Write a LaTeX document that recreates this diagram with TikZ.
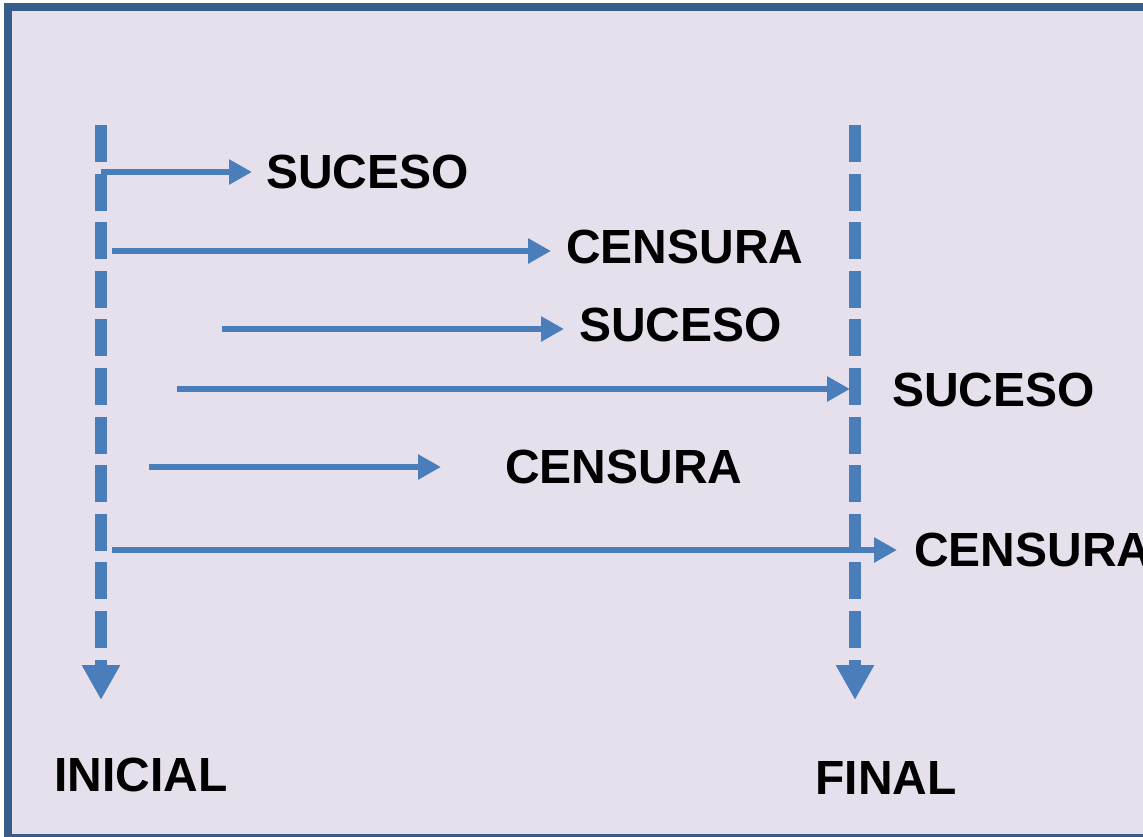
\documentclass[tikz,border=0pt]{standalone}
\usepackage{fontspec}
\setmainfont{Liberation Sans}
\usetikzlibrary{arrows.meta}
\usetikzlibrary{calc}
\definecolor{PPT_blau_1}{HTML}{4A7EBB}
\definecolor{PPT_blau_2}{HTML}{385D8A}
\definecolor{PPT_lila_5}{HTML}{E6E0EC}

\tikzset{
  frame/.style={draw=PPT_blau_2, line width=0.16cm, fill=PPT_lila_5},
  timeline/.style={draw=PPT_blau_1, line width=0.24cm, dash pattern=on 0.74cm off 0.232cm, -{Triangle[length=0.7cm, width=0.72cm]}},
  event/.style={draw=PPT_blau_1, line width=0.12cm, -{Triangle[length=0.46cm, width=0.48cm]}},
  label/.style={anchor=west, inner sep=0pt, font=\bfseries\fontsize{27.3pt}{30pt}\selectfont}
}

\begin{document}
\begin{tikzpicture}[x={(0.02cm,0)}, y={(0,-0.02cm)}]
\clip (0,0) rectangle (1143,836);
%\draw[step=1cm, very thin, red] (0,0) grid (1143,836);

\draw[frame] (8,7) rectangle (1155,838);

% time lines
\coordinate (inicialtop) at (101,125);
\coordinate (inicialend) at (101,700);
\coordinate (finaltop) at (855,125);
\coordinate (finalend) at (855,700);
\draw[timeline] (inicialtop) -- (inicialend);
\draw[timeline] (finaltop) -- (finalend);

\node[label] (inicial) at (54,775) {INICIAL};
\node[label] (final) at (815,778) {FINAL};

% labels
\node[label] (suceso1) at (266,172) {SUCESO};
\node[label] (censura1) at (566,247) {CENSURA};
\node[label] (suceso2) at (579,325) {SUCESO};
\node[label] (suceso3) at (892,390) {SUCESO};
\node[label] (censura2) at (505,467) {CENSURA};
\node[label] (censura3) at (914,550) {CENSURA};

% arrows
\coordinate (start1) at (101,172);
\coordinate (start2) at (112,251);
\coordinate (start3) at (222,329);
\coordinate (start4) at (177,389);
\coordinate (start5) at (149,467);
\coordinate (start6) at (112,550);
\draw[event] (start1) -- ($ (start1) + (151,0) $);
\draw[event] (start2) -- ($ (start2) + (439,0) $);
\draw[event] (start3) -- ($ (start3) + (342,0) $);
\draw[event] (start4) -- ($ (start4) + (673,0) $);
\draw[event] (start5) -- ($ (start5) + (292,0) $);
\draw[event] (start6) -- ($ (start6) + (785,0) $);
\end{tikzpicture}
\end{document}
